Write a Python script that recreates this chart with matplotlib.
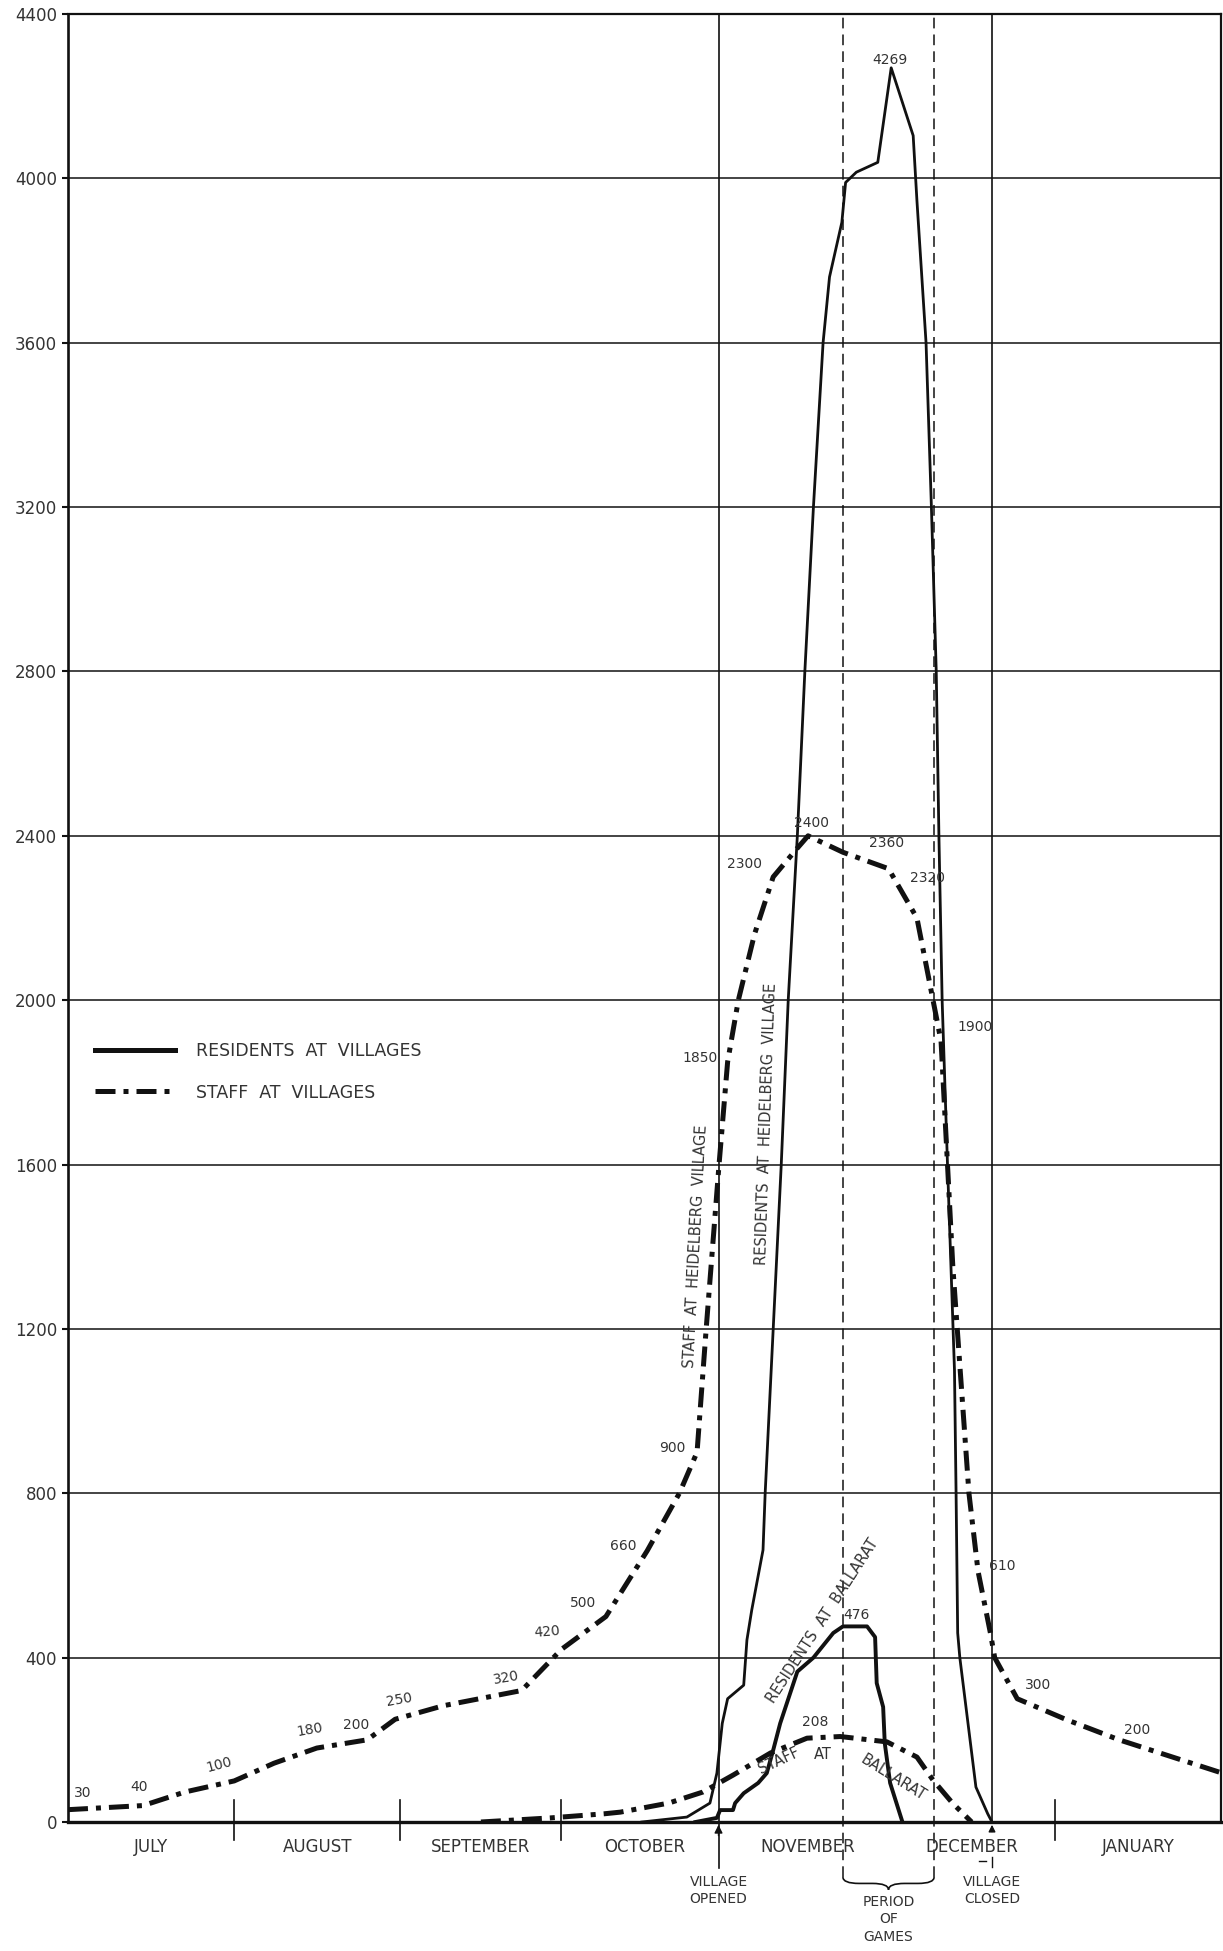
import numpy as np
import matplotlib
matplotlib.use('Agg')
import matplotlib.pyplot as plt
from matplotlib.path import Path
from matplotlib.patches import PathPatch
from matplotlib.lines import Line2D

# x axis: days counted from 1 July 1956
months = ['JULY', 'AUGUST', 'SEPTEMBER', 'OCTOBER', 'NOVEMBER', 'DECEMBER', 'JANUARY']
month_starts = [0, 31, 62, 92, 123, 153, 184, 215]
month_ticks = [31, 62, 92, 184]
y_ticks = list(range(0, 4401, 400))

village_opened = 121.3
village_closed = 172.3
games_start = 144.5
games_end = 161.5

# staff at Heidelberg village
staff_days = [0, 14, 21.8, 31, 38.4, 46.4, 55.8, 61, 70, 84.6, 92, 100.3, 108, 114, 117.3,
              119, 121.4, 123, 125, 128, 131.5, 136, 138, 144.5, 153, 158.3, 161.3, 162.8,
              164, 165, 168, 169.7, 172, 172.8, 177, 186, 196, 215]
staff_vals = [30, 40, 73, 100, 143, 180, 200, 250, 283, 320, 420, 500, 660, 800, 900,
              1200, 1600, 1850, 2000, 2160, 2300, 2370, 2400, 2360, 2320, 2200, 2000, 1900,
              1600, 1350, 800, 610, 460, 400, 300, 250, 200, 120]

# residents at Heidelberg village
res_days = [107, 115.4, 119.7, 121, 122, 123, 126, 126.6, 127.5, 129.6, 130, 131.5, 133,
            134.3, 136, 137.4, 139, 140.8, 142, 144.3, 145, 147, 151, 153.5, 157.6, 158.3,
            160, 161, 161.9, 162.4, 163, 164, 165.3, 165.6, 165.9, 166.3, 169.3, 171.5, 172.3]
res_vals = [0, 12, 46, 119, 240, 300, 333, 443, 516, 662, 800, 1200, 1600,
            2000, 2400, 2800, 3200, 3600, 3760, 3893, 3990, 4015, 4039, 4269, 4104, 3946,
            3600, 3200, 2800, 2400, 2000, 1600, 1100, 800, 460, 400, 85, 20, 0]

# residents at Ballarat
bal_days = [117, 121, 121.6, 124, 124.4, 126, 128.7, 130.3, 131.5, 132.8, 136, 139, 142.7,
            144.5, 149, 150.5, 150.8, 152, 152.3, 153.3, 155.6]
bal_vals = [0, 10, 29, 29, 46, 70, 95, 119, 175, 240, 366, 400, 460,
            476, 476, 450, 338, 280, 192, 95, 0]

# staff at Ballarat
bstaff_days = [77, 90, 100, 103, 112, 118.4, 124, 131, 137.8, 144, 152.7, 158.3, 161.3, 165, 168.5]
bstaff_vals = [0, 10, 20, 24, 46, 73, 114, 168, 204, 208, 195, 158, 102, 45, 0]

# value labels written on the chart: text, day, value, rotation
point_labels = [
    ('30', 2.8, 71, 0), ('40', 13.2, 85, 0), ('100', 28.2, 139, 15), ('180', 45.1, 224, 10),
    ('200', 53.7, 236, 0), ('250', 61.7, 297, 10), ('320', 81.7, 350, 10), ('420', 89.3, 462, 5),
    ('500', 96.0, 533, 0), ('660', 103.5, 672, 0), ('900', 112.6, 910, 0), ('1850', 117.8, 1859, 0),
    ('2300', 126.2, 2331, 0), ('2400', 138.7, 2431, 0), ('2360', 152.7, 2382, 0),
    ('2320', 160.2, 2297, 0), ('1900', 169.1, 1934, 0), ('4269', 153.3, 4287, 0),
    ('476', 147.1, 504, 0), ('208', 139.3, 243, 0), ('610', 174.2, 623, 0),
    ('300', 180.9, 333, 0), ('200', 199.3, 224, 0),
]

ink = '#111111'
txt = '#333333'
dashdot = (0, (4, 1.6, 1, 1.6))

fig = plt.figure(figsize=(12.23, 19.51), dpi=100)
ax = fig.add_axes([68 / 1223, 1 - 1822 / 1951, 1153 / 1223, 1808 / 1951])
ax.set_xlim(0, 215)
ax.set_ylim(0, 4400)

# grid
for v in y_ticks[1:-1]:
    ax.axhline(v, color=ink, lw=1.1, zorder=1)
for s, w in zip(['left', 'top', 'right', 'bottom'], [1.9, 1.6, 1.6, 2.4]):
    ax.spines[s].set_linewidth(w)
    ax.spines[s].set_color(ink)

ax.set_xticks([])
ax.set_yticks(y_ticks)
ax.set_yticklabels([str(v) for v in y_ticks], fontsize=12, color=txt)
ax.tick_params(axis='y', length=4, width=1.5, pad=4, color=ink)

# month separators and names
for d in month_ticks:
    ax.plot([d, d], [-45, 54], color=ink, lw=1.2, clip_on=False, zorder=3)
for i, m in enumerate(months):
    ax.text((month_starts[i] + month_starts[i + 1]) / 2, -61, m, ha='center', va='center',
            fontsize=12, color=txt)

# village opened / closed and period of games
ax.plot([village_opened, village_opened], [-112, 4400], color=ink, lw=1.2, clip_on=False, zorder=2)
ax.plot([village_closed, village_closed], [0, 4400], color=ink, lw=1.2, clip_on=False, zorder=2)
for d in (games_start, games_end):
    ax.plot([d, d], [-134, 4400], color=ink, lw=1.1, ls=(0, (7, 4)), clip_on=False, zorder=2)
ax.annotate('', xy=(village_opened, 0), xytext=(village_opened, -40),
            arrowprops=dict(arrowstyle='-|>', color=ink, lw=1.0, mutation_scale=12), annotation_clip=False)
ax.annotate('', xy=(village_closed, 0), xytext=(village_closed, -30),
            arrowprops=dict(arrowstyle='-|>', color=ink, lw=1.0, mutation_scale=10), annotation_clip=False)
ax.plot([village_closed - 2.5, village_closed - 1.2], [-95, -95], color=ink, lw=1, clip_on=False)
ax.plot([village_closed, village_closed], [-85, -110], color=ink, lw=1, clip_on=False)
ax.text(village_opened, -128, 'VILLAGE\nOPENED', ha='center', va='top', fontsize=10,
        color=txt, linespacing=1.3)
ax.text(village_closed, -128, 'VILLAGE\nCLOSED', ha='center', va='top', fontsize=10,
        color=txt, linespacing=1.3)

# brace under the period of games
x0, x1 = games_start, games_end
xm = (x0 + x1) / 2
yt, yb = -134, -165
ym = (yt + yb) / 2
verts = [(x0, yt), (x0, ym), (x0 + 3, ym), (xm - 3, ym), (xm, ym), (xm, yb),
         (xm, ym), (xm + 3, ym), (x1 - 3, ym), (x1, ym), (x1, yt)]
codes = [Path.MOVETO, Path.CURVE3, Path.CURVE3, Path.LINETO, Path.CURVE3, Path.CURVE3,
         Path.CURVE3, Path.CURVE3, Path.LINETO, Path.CURVE3, Path.CURVE3]
ax.add_patch(PathPatch(Path(verts, codes), fill=False, ec=ink, lw=1.2, clip_on=False))
ax.text(xm, -178, 'PERIOD\nOF\nGAMES', ha='center', va='top', fontsize=10, color=txt,
        linespacing=1.3)

# series
ax.plot(staff_days, staff_vals, color=ink, lw=3.6, ls=dashdot, zorder=4)
ax.plot(bstaff_days, bstaff_vals, color=ink, lw=3.6, ls=dashdot, zorder=4)
ax.plot(res_days, res_vals, color=ink, lw=2.0, zorder=5)
ax.plot(bal_days, bal_vals, color=ink, lw=2.8, zorder=5)

for t, d, v, r in point_labels:
    ax.text(d, v, t, ha='center', va='center', fontsize=10, color=txt, rotation=r, zorder=6)

# series names written along the curves
ax.text(117.1, 1400, 'STAFF  AT  HEIDELBERG  VILLAGE', rotation=87, ha='center', va='center',
        fontsize=10.5, color=txt, zorder=6)
ax.text(130.2, 1700, 'RESIDENTS  AT  HEIDELBERG  VILLAGE', rotation=88, ha='center', va='center',
        fontsize=10.5, color=txt, zorder=6)
ax.text(140.7, 490, 'RESIDENTS  AT  BALLARAT', rotation=57, ha='center', va='center',
        fontsize=10.5, color=txt, zorder=6)
ax.text(132.5, 150, 'STAFF', rotation=25, ha='center', va='center', fontsize=10.5, color=txt, zorder=6)
ax.text(140.8, 165, 'AT', rotation=0, ha='center', va='center', fontsize=10.5, color=txt, zorder=6)
ax.text(153.8, 108, 'BALLARAT', rotation=-32, ha='center', va='center', fontsize=10.5,
        color=txt, zorder=6)

# legend
handles = [Line2D([], [], color=ink, lw=3.6), Line2D([], [], color=ink, lw=3.6, ls=dashdot)]
ax.legend(handles, ['RESIDENTS  AT  VILLAGES', 'STAFF  AT  VILLAGES'], loc='upper left',
          bbox_to_anchor=(0.01, 0.44), frameon=False, fontsize=12.5, handlelength=4.6,
          handletextpad=1.2, labelspacing=1.35, labelcolor=txt)

fig.savefig('out.png', dpi=100)
